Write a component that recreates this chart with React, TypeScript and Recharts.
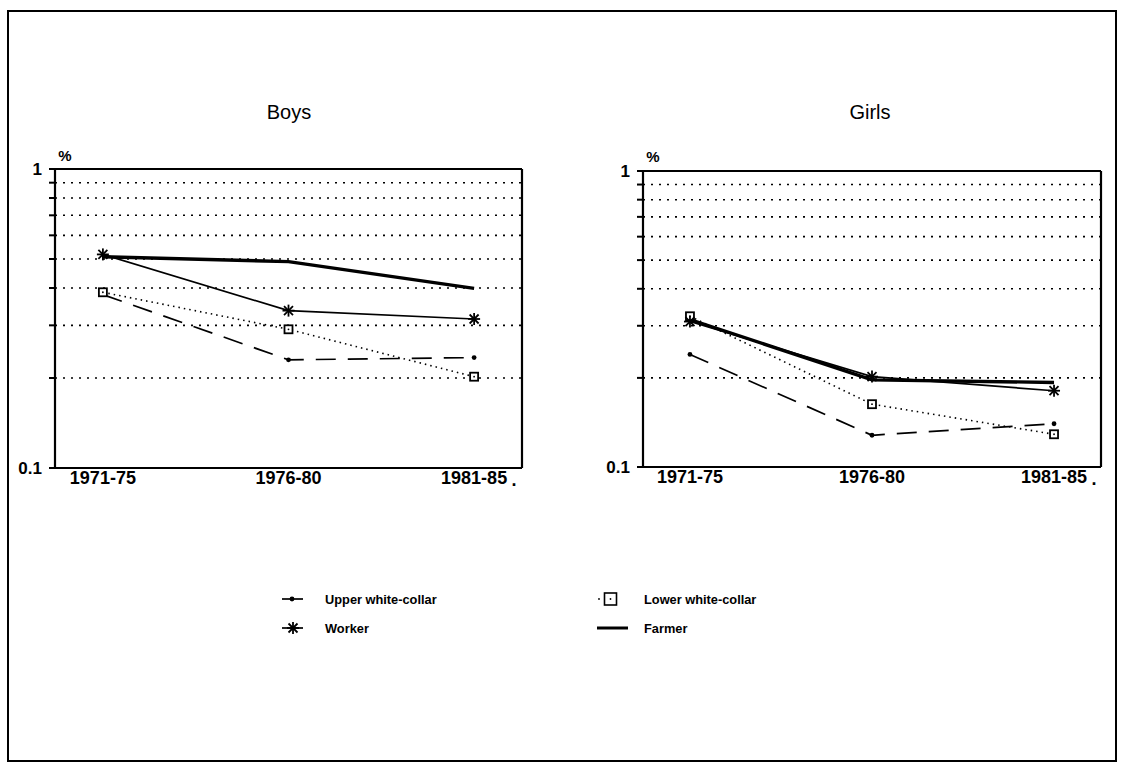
import React from 'react';
import { LineChart, Line, XAxis, YAxis, CartesianGrid, ReferenceLine } from 'recharts';

const periods = ['1971-75', '1976-80', '1981-85'];
const periodIndex = [0, 1, 2];
const yTicks = [0.1, 0.2, 0.3, 0.4, 0.5, 0.6, 0.7, 0.8, 0.9, 1];
const yLabelled = [0.1, 1];

const boysUpper = [0.38, 0.23, 0.234];
const boysLower = [0.387, 0.291, 0.202];
const boysWorker = [0.518, 0.336, 0.315];
const boysFarmer = [0.509, 0.49, 0.399];

const girlsUpper = [0.24, 0.128, 0.14];
const girlsLower = [0.323, 0.163, 0.129];
const girlsWorker = [0.31, 0.202, 0.181];
const girlsFarmer = [0.315, 0.197, 0.193];

const seriesNames = ['Upper white-collar', 'Lower white-collar', 'Worker', 'Farmer'];

const FONT = '"Liberation Sans", Arial, Helvetica, sans-serif';
const X_PAD = 0.258;
const X_MIN = -X_PAD;
const X_MAX = periods.length - 1 + X_PAD;
const Y_MIN = 0.1;
const Y_MAX = 1;

function buildRows(upper: number[], lower: number[], worker: number[], farmer: number[]) {
  return periods.map((p, i) => ({
    idx: periodIndex[i],
    period: p,
    upper: upper[i],
    lower: lower[i],
    worker: worker[i],
    farmer: farmer[i],
  }));
}

const boysData = buildRows(boysUpper, boysLower, boysWorker, boysFarmer);
const girlsData = buildRows(girlsUpper, girlsLower, girlsWorker, girlsFarmer);

const DotMarker = (props: any) => {
  const { cx, cy } = props;
  if (cx == null || cy == null) return null;
  return <circle cx={cx} cy={cy} r={2.4} fill="#000" />;
};

const SquareMarker = (props: any) => {
  const { cx, cy } = props;
  if (cx == null || cy == null) return null;
  return (
    <g>
      <rect x={cx - 4} y={cy - 4} width={8} height={8} fill="#fff" stroke="#000" strokeWidth={1.8} />
      <circle cx={cx} cy={cy} r={0.9} fill="#000" />
    </g>
  );
};

const StarMarker = (props: any) => {
  const { cx, cy } = props;
  if (cx == null || cy == null) return null;
  const r = 6;
  const d = 4.5;
  return (
    <g stroke="#000" strokeWidth={1.8}>
      <line x1={cx - r} y1={cy} x2={cx + r} y2={cy} />
      <line x1={cx} y1={cy - r} x2={cx} y2={cy + r} />
      <line x1={cx - d} y1={cy - d} x2={cx + d} y2={cy + d} />
      <line x1={cx - d} y1={cy + d} x2={cx + d} y2={cy - d} />
    </g>
  );
};

const XTick = (props: any) => {
  const { x, y, payload } = props;
  const i = Math.round(payload.value);
  const last = i === periods.length - 1;
  return (
    <g>
      <text x={x} y={y} dy="0.71em" textAnchor="middle" fontFamily={FONT} fontWeight="bold" fontSize={18} fill="#000">
        {periods[i]}
      </text>
      {last ? (
        <text x={x + 40} y={y} dy="0.85em" textAnchor="middle" fontFamily={FONT} fontWeight="bold" fontSize={18} fill="#000">
          .
        </text>
      ) : null}
    </g>
  );
};

const Y_TICK_LEN = 6;
const Y_GAP = 11;

const YTick = (props: any) => {
  const { x, y, payload } = props;
  const v = payload.value;
  const labelled = yLabelled.some((t) => Math.abs(t - v) < 1e-9);
  const ax = x + Y_GAP;
  return (
    <g>
      <line x1={ax - Y_TICK_LEN} y1={y} x2={ax} y2={y} stroke="#000" strokeWidth={2} />
      {labelled ? (
        <text x={x - 2} y={y} dy="0.355em" textAnchor="end" fontFamily={FONT} fontWeight="bold" fontSize={17} fill="#000">
          {String(v)}
        </text>
      ) : null}
    </g>
  );
};

interface PanelProps {
  data: any[];
  width: number;
  height: number;
  margin: { top: number; right: number; bottom: number; left: number };
}

function Panel({ data, width, height, margin }: PanelProps) {
  return (
    <LineChart width={width} height={height} data={data} margin={margin}>
      <CartesianGrid vertical={false} stroke="#000" strokeWidth={1.6} strokeDasharray="2 6" />
      <XAxis
        dataKey="idx"
        type="number"
        domain={[X_MIN, X_MAX]}
        allowDataOverflow
        ticks={periodIndex}
        interval={0}
        axisLine={{ stroke: '#000', strokeWidth: 2 }}
        tickLine={false}
        tickSize={0}
        tickMargin={3}
        height={30}
        tick={<XTick />}
      />
      <YAxis
        type="number"
        scale="log"
        domain={[Y_MIN, Y_MAX]}
        allowDataOverflow
        ticks={yTicks}
        interval={0}
        width={50}
        tickSize={0}
        tickMargin={Y_GAP}
        axisLine={{ stroke: '#000', strokeWidth: 2 }}
        tickLine={false}
        tick={<YTick />}
      />
      <ReferenceLine y={Y_MAX} stroke="#000" strokeWidth={2.2} ifOverflow="visible" />
      <ReferenceLine y={Y_MIN} stroke="#000" strokeWidth={2.2} ifOverflow="visible" />
      <ReferenceLine x={X_MIN} stroke="#000" strokeWidth={2.2} ifOverflow="visible" />
      <ReferenceLine x={X_MAX} stroke="#000" strokeWidth={2.2} ifOverflow="visible" />
      <Line dataKey="upper" name={seriesNames[0]} stroke="#000" strokeWidth={1.7} strokeDasharray="20 12" dot={<DotMarker />} isAnimationActive={false} />
      <Line dataKey="lower" name={seriesNames[1]} stroke="#000" strokeWidth={1.6} strokeDasharray="1.5 4" dot={<SquareMarker />} isAnimationActive={false} />
      <Line dataKey="worker" name={seriesNames[2]} stroke="#000" strokeWidth={1.7} dot={<StarMarker />} isAnimationActive={false} />
      <Line dataKey="farmer" name={seriesNames[3]} stroke="#000" strokeWidth={3.4} dot={false} isAnimationActive={false} />
    </LineChart>
  );
}

function LegendBlock() {
  const row1 = 599;
  const row2 = 628;
  const textStyle = { fontFamily: FONT, fontWeight: 'bold' as const, fontSize: 12.8, fill: '#000' };
  return (
    <svg width={1122} height={764} style={{ position: 'absolute', left: 0, top: 0, pointerEvents: 'none' }}>
      <rect x={8} y={11} width={1108} height={750} fill="none" stroke="#000" strokeWidth={2} />
      <text x={289} y={119} textAnchor="middle" fontFamily={FONT} fontSize={20} fill="#000">Boys</text>
      <text x={870} y={119} textAnchor="middle" fontFamily={FONT} fontSize={20} fill="#000">Girls</text>
      <text x={65} y={161} textAnchor="middle" fontFamily={FONT} fontWeight="bold" fontSize={15} fill="#000">%</text>
      <text x={653} y={162} textAnchor="middle" fontFamily={FONT} fontWeight="bold" fontSize={15} fill="#000">%</text>

      <line x1={282} y1={row1} x2={303} y2={row1} stroke="#000" strokeWidth={1.7} />
      <DotMarker cx={292} cy={row1} />
      <text x={325} y={row1 + 4.5} {...textStyle}>{seriesNames[0]}</text>

      <StarMarker cx={293} cy={row2} />
      <line x1={282} y1={row2} x2={303} y2={row2} stroke="#000" strokeWidth={1.7} />
      <text x={325} y={row2 + 4.5} {...textStyle}>{seriesNames[2]}</text>

      <circle cx={599} cy={row1} r={0.9} fill="#000" />
      <rect x={604.5} y={row1 - 6} width={12} height={12} fill="#fff" stroke="#000" strokeWidth={1.6} />
      <circle cx={610.5} cy={row1} r={0.9} fill="#000" />
      <text x={644} y={row1 + 4.5} {...textStyle}>{seriesNames[1]}</text>

      <line x1={597} y1={row2} x2={628} y2={row2} stroke="#000" strokeWidth={3} />
      <text x={644} y={row2 + 4.5} {...textStyle}>{seriesNames[3]}</text>
    </svg>
  );
}

export default function App() {
  return (
    <div style={{ position: 'absolute', left: 0, top: 0, width: 1122, height: 764, background: '#fff', overflow: 'hidden' }}>
      <div style={{ position: 'absolute', left: 0, top: 0 }}>
        <Panel data={boysData} width={560} height={520} margin={{ top: 169, right: 38, bottom: 22, left: 5 }} />
      </div>
      <div style={{ position: 'absolute', left: 580, top: 0 }}>
        <Panel data={girlsData} width={542} height={520} margin={{ top: 171, right: 21, bottom: 23, left: 13 }} />
      </div>
      <LegendBlock />
    </div>
  );
}
